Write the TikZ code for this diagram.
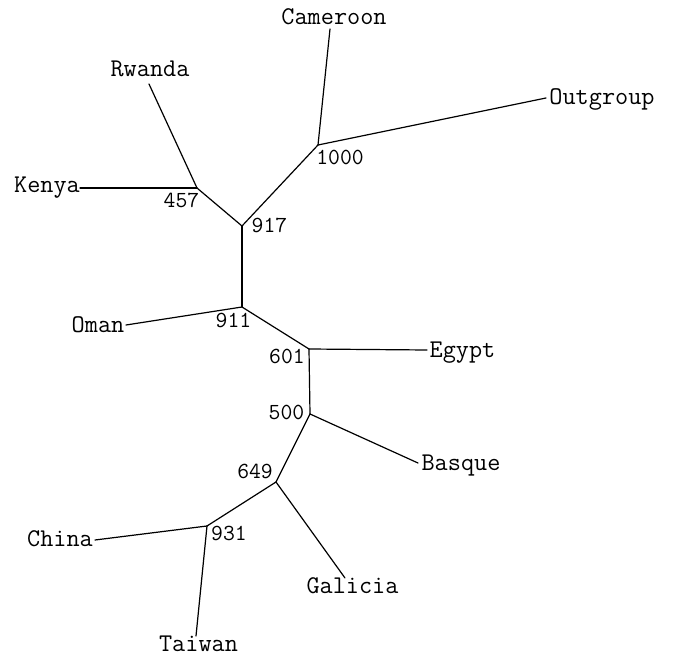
\documentclass[tikz,border=0pt]{standalone}
\begin{document}
\begin{tikzpicture}[x=1pt,y=-1pt,
  edge/.style={line width=1.2pt,line cap=round,line join=round},
  leaf/.style={anchor=base,inner sep=0pt,font=\ttfamily\fontsize{25.5}{30}\selectfont},
  boot/.style={anchor=base,inner sep=0pt,font=\ttfamily\fontsize{23}{27}\selectfont}]
\useasboundingbox (0,0) rectangle (673,658);
% internal nodes
\coordinate (n1000) at (318,145);
\coordinate (n917) at (242,226);
\coordinate (n457) at (197,188);
\coordinate (n911) at (242,307);
\coordinate (n601) at (309,349);
\coordinate (n500) at (310,414);
\coordinate (n649) at (276,482);
\coordinate (n931) at (207,526);
% leaf tips
\coordinate (tCameroon) at (330,29);
\coordinate (tOutgroup) at (546,98);
\coordinate (tRwanda) at (149,84);
\coordinate (tKenya) at (80,188);
\coordinate (tOman) at (126,325);
\coordinate (tEgypt) at (427,350);
\coordinate (tBasque) at (418,463);
\coordinate (tGalicia) at (345,578);
\coordinate (tChina) at (95,540);
\coordinate (tTaiwan) at (196,636);
% leaf labels
\node[leaf] (Cameroon) at (334,25) {Cameroon};
\node[leaf] (Outgroup) at (602,105) {Outgroup};
\node[leaf] (Rwanda) at (150,77) {Rwanda};
\node[leaf] (Kenya) at (47,193) {Kenya};
\node[leaf] (Oman) at (98,332) {Oman};
\node[leaf] (Egypt) at (462.5,357) {Egypt};
\node[leaf] (Basque) at (461,470) {Basque};
\node[leaf] (Galicia) at (352.5,593) {Galicia};
\node[leaf] (China) at (60,546) {China};
\node[leaf] (Taiwan) at (198.5,651) {Taiwan};
% bootstrap labels
\node[boot] (b1000) at (340,165) {1000};
\node[boot] (b457) at (181.5,208) {457};
\node[boot] (b917) at (269.5,233) {917};
\node[boot] (b911) at (233.5,327) {911};
\node[boot] (b601) at (287,363) {601};
\node[boot] (b500) at (286.5,419) {500};
\node[boot] (b649) at (255,478) {649};
\node[boot] (b931) at (229,540) {931};
% edges
\draw[edge] (n1000) -- (tCameroon);
\draw[edge] (n1000) -- (tOutgroup);
\draw[edge] (n1000) -- (n917);
\draw[edge] (n917) -- (n457);
\draw[edge] (n457) -- (tRwanda);
\draw[edge] (n457) -- (tKenya);
\draw[edge] (n917) -- (n911);
\draw[edge] (n911) -- (tOman);
\draw[edge] (n911) -- (n601);
\draw[edge] (n601) -- (tEgypt);
\draw[edge] (n601) -- (n500);
\draw[edge] (n500) -- (tBasque);
\draw[edge] (n500) -- (n649);
\draw[edge] (n649) -- (tGalicia);
\draw[edge] (n649) -- (n931);
\draw[edge] (n931) -- (tChina);
\draw[edge] (n931) -- (tTaiwan);
\end{tikzpicture}
\end{document}
